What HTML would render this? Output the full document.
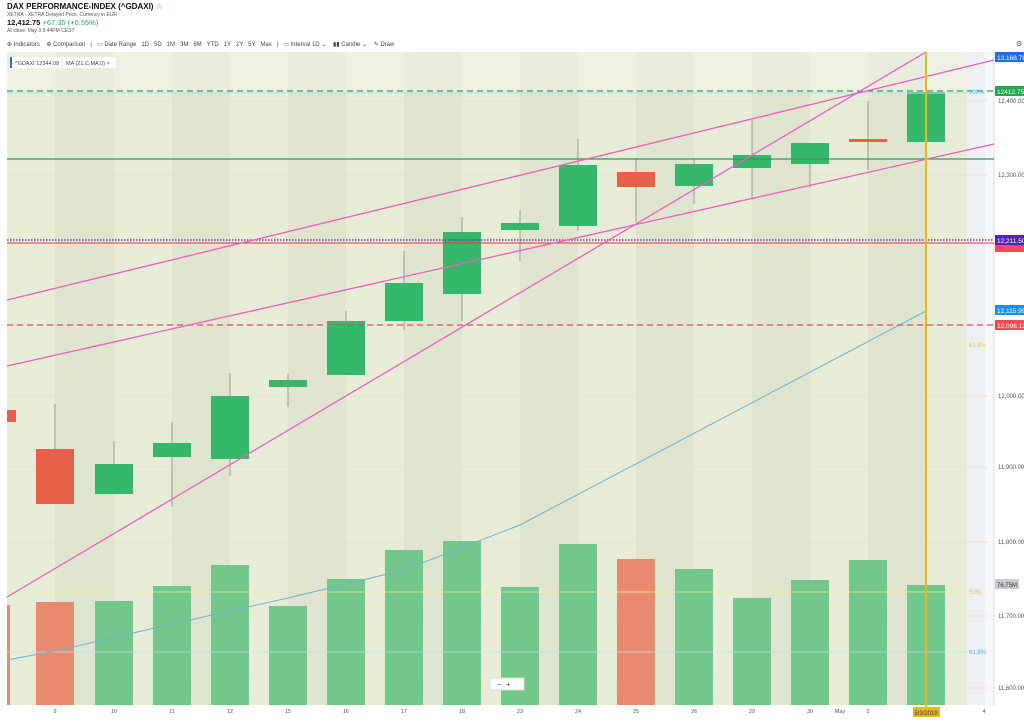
<!DOCTYPE html>
<html><head><meta charset="utf-8"><style>
body{margin:0;width:1024px;height:722px;background:#fff;font-family:"Liberation Sans",sans-serif;overflow:hidden;position:relative}
.t{position:absolute;white-space:nowrap}
</style></head><body>
<div class="t" style="left:7px;top:2px;font-size:8px;font-weight:bold;color:#111">DAX PERFORMANCE-INDEX (^GDAXI) <span style="color:#2a7de1;font-weight:normal">☆</span></div>
<div class="t" style="left:7px;top:12px;font-size:5px;color:#555">XETRA - XETRA Delayed Price. Currency in EUR</div>
<div class="t" style="left:7px;top:18px;font-size:7.5px;font-weight:bold;color:#111">12,412.75 <span style="color:#21a854;font-weight:normal">+67.35 (+0.55%)</span></div>
<div class="t" style="left:7px;top:28px;font-size:5px;color:#555">At close: May 3 5:44PM CEST</div>
<div class="t" style="left:7px;top:41px;font-size:6px;color:#444">⊕ Indicators &nbsp;&nbsp; ⊕ Comparison &nbsp;&nbsp;|&nbsp;&nbsp; ▭ Date Range &nbsp;&nbsp;1D &nbsp;&nbsp;5D &nbsp;&nbsp;1M &nbsp;&nbsp;3M &nbsp;&nbsp;6M &nbsp;&nbsp;YTD &nbsp;&nbsp;1Y &nbsp;&nbsp;2Y &nbsp;&nbsp;5Y &nbsp;&nbsp;Max &nbsp;&nbsp;|&nbsp;&nbsp; ▭ Interval 1D ⌄ &nbsp;&nbsp; ▮▮ Candle ⌄ &nbsp;&nbsp; ✎ Draw</div>
<div class="t" style="left:1016px;top:40px;font-size:7px;color:#555">⚙</div>
<svg width="1024" height="722" style="position:absolute;left:0;top:0">
<rect x="7" y="52" width="960" height="653" fill="#e8edd7"/>
<g fill="#e0e5cf">
<rect x="55" y="52" width="59" height="653"/><rect x="172" y="52" width="58" height="653"/><rect x="288" y="52" width="58" height="653"/><rect x="404" y="52" width="58" height="653"/><rect x="520" y="52" width="58" height="653"/><rect x="636" y="52" width="58" height="653"/><rect x="752" y="52" width="58" height="653"/><rect x="868" y="52" width="58" height="653"/>
</g>
<rect x="7" y="52" width="960" height="40" fill="#fff" opacity="0.3"/>
<rect x="967" y="52" width="18" height="653" fill="#eef1f4"/>
<rect x="985" y="52" width="9" height="653" fill="#f7f8fa"/>
<line x1="994" y1="52" x2="994" y2="705" stroke="#ddd"/>
<g stroke="#dde2cc" stroke-width="0.7"><line x1="7" y1="101" x2="988" y2="101"/><line x1="7" y1="175" x2="988" y2="175"/><line x1="7" y1="396" x2="988" y2="396"/><line x1="7" y1="467" x2="988" y2="467"/><line x1="7" y1="542" x2="988" y2="542"/><line x1="7" y1="616" x2="988" y2="616"/><line x1="7" y1="688" x2="988" y2="688"/></g>
<!-- volume -->
<g fill="#72c88a">
<rect x="95" y="601" width="38" height="104"/><rect x="153" y="586" width="38" height="119"/><rect x="211" y="565" width="38" height="140"/><rect x="269" y="606" width="38" height="99"/><rect x="327" y="579" width="38" height="126"/><rect x="385" y="550" width="38" height="155"/><rect x="443" y="541" width="38" height="164"/><rect x="501" y="587" width="38" height="118"/><rect x="559" y="544" width="38" height="161"/><rect x="675" y="569" width="38" height="136"/><rect x="733" y="598" width="38" height="107"/><rect x="791" y="580" width="38" height="125"/><rect x="849" y="560" width="38" height="145"/><rect x="907" y="585" width="38" height="120"/>
</g>
<g fill="#e98a70"><rect x="7" y="605" width="3" height="100"/><rect x="36" y="602" width="38" height="103"/><rect x="617" y="559" width="38" height="146"/></g>
<line x1="7" y1="592" x2="967" y2="592" stroke="#f3e9a0" stroke-width="0.8"/>
<line x1="7" y1="652" x2="967" y2="652" stroke="#b8e3ee" stroke-width="0.8"/>
<!-- wicks -->
<g stroke="#999" stroke-width="1">
<line x1="55" y1="404" x2="55" y2="504"/><line x1="114" y1="441" x2="114" y2="494"/><line x1="172" y1="422" x2="172" y2="507"/><line x1="230" y1="373" x2="230" y2="476"/><line x1="288" y1="374" x2="288" y2="407"/><line x1="346" y1="311" x2="346" y2="375"/><line x1="404" y1="251" x2="404" y2="330"/><line x1="462" y1="217" x2="462" y2="321"/><line x1="520" y1="210" x2="520" y2="261"/><line x1="578" y1="139" x2="578" y2="231"/><line x1="636" y1="158" x2="636" y2="222"/><line x1="694" y1="158" x2="694" y2="204"/><line x1="752" y1="120" x2="752" y2="198"/><line x1="810" y1="143" x2="810" y2="188"/><line x1="868" y1="101" x2="868" y2="170"/>
</g>
<g fill="#36b86a">
<rect x="95" y="464" width="38" height="30"/><rect x="153" y="443" width="38" height="14"/><rect x="211" y="396" width="38" height="63"/><rect x="269" y="380" width="38" height="7"/><rect x="327" y="321" width="38" height="54"/><rect x="385" y="283" width="38" height="38"/><rect x="443" y="232" width="38" height="62"/><rect x="501" y="223" width="38" height="7"/><rect x="559" y="165" width="38" height="61"/><rect x="675" y="164" width="38" height="22"/><rect x="733" y="155" width="38" height="13"/><rect x="791" y="143" width="38" height="21"/><rect x="907" y="92" width="38" height="50"/>
</g>
<g fill="#e8604a"><rect x="7" y="410" width="9" height="12"/><rect x="36" y="449" width="38" height="55"/><rect x="617" y="172" width="38" height="15"/><rect x="849" y="139" width="38" height="3"/></g>
<!-- MA -->
<polyline points="7,660 60,650 172,624 288,598 404,570 520,525 926,311" fill="none" stroke="#6fb3d0" stroke-width="1"/>
<!-- horizontal lines -->
<line x1="7" y1="91" x2="994" y2="91" stroke="#21a854" stroke-width="1.2" stroke-dasharray="6,4"/>
<line x1="7" y1="93" x2="967" y2="93" stroke="#b8e3ee" stroke-width="1"/>
<line x1="7" y1="159" x2="994" y2="159" stroke="#2e9a5c" stroke-width="1.2"/>
<line x1="7" y1="240" x2="994" y2="240" stroke="#4a2bb0" stroke-width="1.2" stroke-dasharray="1.5,1.5"/>
<line x1="7" y1="243" x2="994" y2="243" stroke="#e83040" stroke-width="1"/>
<line x1="7" y1="325" x2="994" y2="325" stroke="#f04a55" stroke-width="1.2" stroke-dasharray="6,4"/>
<!-- pink trendlines -->
<g stroke="#ee5fc0" stroke-width="1.3">
<line x1="7" y1="597" x2="926" y2="52"/><line x1="7" y1="300" x2="994" y2="60"/><line x1="7" y1="366" x2="994" y2="144"/>
</g>
<line x1="926" y1="52" x2="926" y2="712" stroke="#e8b820" stroke-width="2"/>
<text x="969" y="94" font-size="6" fill="#4ab8e8">100%</text>
<text x="969" y="347" font-size="6" fill="#e8c840">61.8%</text>
<text x="969" y="594" font-size="6" fill="#e8c840">50%</text>
<text x="969" y="654" font-size="6" fill="#4ab8e8">61.8%</text>
<g font-size="6" fill="#555"><text x="998" y="103">12,400.00</text><text x="998" y="177">12,300.00</text><text x="998" y="398">12,000.00</text><text x="998" y="469">11,900.00</text><text x="998" y="544">11,800.00</text><text x="998" y="618">11,700.00</text><text x="998" y="690">11,600.00</text></g>
<rect x="995" y="52" width="29" height="10" fill="#1e6fd8"/><text x="997" y="60" font-size="6.5" fill="#fff">13,168.78</text>
<rect x="995" y="86" width="29" height="10" fill="#21a854"/><text x="997" y="94" font-size="6.5" fill="#fff">12412.75</text>
<rect x="995" y="242" width="29" height="10" fill="#f04a55"/>
<rect x="995" y="235" width="29" height="10" fill="#5a1fc0"/><text x="997" y="243" font-size="6.5" fill="#fff">12,211.50</text>
<rect x="995" y="305" width="29" height="10" fill="#1e8fe8"/><text x="997" y="313" font-size="6.5" fill="#fff">12,115.99</text>
<rect x="995" y="320" width="29" height="10" fill="#f04a55"/><text x="997" y="328" font-size="6.5" fill="#fff">12,096.12</text>
<rect x="995" y="579" width="24" height="10" fill="#c8ccd2"/><text x="997" y="587" font-size="6" fill="#333">76.75M</text>
<g font-size="5.5" fill="#555" text-anchor="middle"><text x="55" y="713">9</text><text x="114" y="713">10</text><text x="172" y="713">11</text><text x="230" y="713">12</text><text x="288" y="713">15</text><text x="346" y="713">16</text><text x="404" y="713">17</text><text x="462" y="713">18</text><text x="520" y="713">23</text><text x="578" y="713">24</text><text x="636" y="713">25</text><text x="694" y="713">26</text><text x="752" y="713">29</text><text x="810" y="713">30</text><text x="840" y="713">May</text><text x="868" y="713">2</text><text x="984" y="713">4</text></g>
<rect x="913" y="707" width="27" height="10" fill="#e8b820"/><text x="926" y="715" font-size="6" fill="#333" text-anchor="middle">5/3/2019</text>
<rect x="490" y="678" width="34" height="12" fill="#fff" stroke="#ddd"/><text x="497" y="687" font-size="8" fill="#555">− &nbsp;+</text>
<rect x="10" y="57" width="106" height="11" fill="#fff" rx="2"/><rect x="10" y="57" width="2" height="11" fill="#1e6fd8"/>
<text x="15" y="65" font-size="5.5" fill="#444">^GDAXI 12344.08</text><line x1="62" y1="58" x2="62" y2="67" stroke="#ddd"/>
<text x="66" y="65" font-size="5.5" fill="#444">MA (21,C,MA,0) ×</text>
</svg>
</body></html>
